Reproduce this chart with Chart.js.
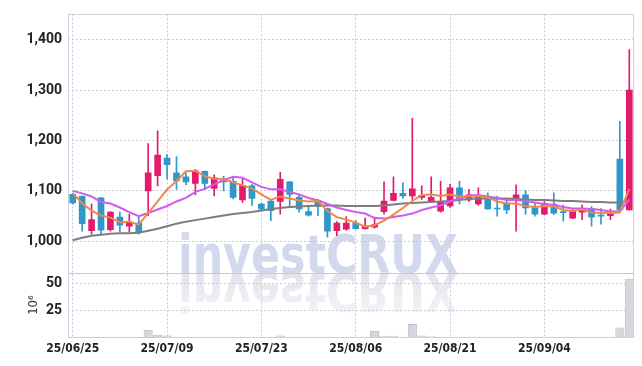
<!DOCTYPE html>
<html><head><meta charset="utf-8">
<script src="https://cdn.jsdelivr.net/npm/chart.js@4.4.1/dist/chart.umd.min.js"></script>
<style>html,body{margin:0;padding:0;background:#fff;overflow:hidden}#wrap{width:642px;height:366px;position:relative}</style>
</head><body><div id="wrap"><canvas id="c" width="642" height="366"></canvas></div>
<script>
const dates = ['25/06/25','25/06/26','25/06/27','25/06/30','25/07/01','25/07/02','25/07/03','25/07/04','25/07/07','25/07/08',
'25/07/09','25/07/10','25/07/11','25/07/14','25/07/15','25/07/16','25/07/17','25/07/18','25/07/21','25/07/22',
'25/07/23','25/07/24','25/07/25','25/07/28','25/07/29','25/07/30','25/07/31','25/08/01','25/08/04','25/08/05',
'25/08/06','25/08/07','25/08/08','25/08/11','25/08/12','25/08/13','25/08/14','25/08/18','25/08/19','25/08/20',
'25/08/21','25/08/22','25/08/25','25/08/26','25/08/27','25/08/28','25/08/29','25/09/01','25/09/02','25/09/03',
'25/09/04','25/09/05','25/09/08','25/09/09','25/09/10','25/09/11','25/09/12','25/09/15','25/09/16','25/09/17'];
const tickDates = ['25/06/25','25/07/09','25/07/23','25/08/06','25/08/21','25/09/04'];
const openP  = [1093,1089,1021,1086,1023,1048,1030,1036,1100,1130,1165,1136,1128,1115,1139,1105,1124,1119,1082,1110,
1074,1080,1079,1118,1087,1059,1081,1065,1021,1024,1036,1025,1028,1059,1081,1095,1090,1087,1079,1060,
1070,1106,1082,1074,1089,1066,1076,1085,1092,1067,1054,1074,1059,1046,1058,1065,1051,1051,1163,1062];
const highP  = [1095,1090,1074,1087,1059,1058,1054,1051,1194,1219,1172,1168,1136,1142,1140,1132,1129,1129,1123,1113,
1076,1081,1137,1119,1093,1072,1083,1066,1039,1049,1041,1046,1048,1118,1128,1116,1244,1110,1128,1119,
1113,1119,1103,1106,1096,1089,1085,1112,1101,1077,1079,1096,1072,1063,1072,1069,1065,1064,1238,1380];
const lowP   = [1074,1020,1014,1014,1020,1019,1019,1014,1051,1110,1123,1103,1112,1092,1103,1090,1100,1084,1077,1071,
1062,1041,1054,1067,1058,1050,1051,1008,1011,1022,1024,1024,1026,1054,1080,1085,1083,1083,1077,1058,
1067,1074,1079,1071,1063,1050,1055,1020,1054,1050,1053,1053,1040,1045,1043,1030,1034,1043,1060,1062];
const closeP = [1076,1035,1043,1022,1058,1032,1038,1017,1136,1171,1152,1120,1118,1140,1115,1126,1118,1087,1111,1085,
1064,1061,1123,1093,1064,1052,1069,1020,1036,1036,1025,1030,1033,1080,1095,1090,1104,1091,1087,1078,
1106,1083,1092,1091,1064,1064,1062,1092,1066,1054,1075,1056,1057,1060,1065,1048,1050,1058,1062,1300];
const ma5  = [1096,1075,1061,1051,1047,1038,1039,1033,1056,1079,1103,1119,1139,1140,1129,1124,1123,1117,1111,1105,
1093,1082,1089,1085,1081,1079,1080,1060,1048,1043,1037,1029,1032,1041,1053,1066,1080,1092,1093,1090,
1093,1089,1089,1090,1087,1079,1075,1075,1070,1068,1070,1069,1062,1060,1063,1057,1056,1056,1057,1104];
const ma10 = [1100,1095,1089,1078,1075,1067,1058,1050,1056,1063,1070,1079,1086,1098,1104,1113,1121,1128,1126,1117,
1108,1103,1103,1098,1093,1086,1081,1074,1067,1062,1058,1055,1046,1045,1048,1051,1055,1062,1067,1071,
1079,1085,1091,1092,1089,1086,1082,1082,1080,1077,1074,1072,1068,1065,1065,1064,1062,1059,1059,1083];
const maLong = [1002,1007,1011,1013,1015,1016,1016,1017,1021,1025,1030,1035,1039,1042,1045,1048,1051,1054,1056,1058,
1061,1064,1066,1068,1069,1070,1071,1071,1071,1070,1070,1070,1070,1071,1073,1075,1076,1077,1078,1079,
1080,1082,1084,1085,1085,1085,1085,1084,1083,1082,1082,1081,1080,1080,1079,1078,1078,1077,1077,1080];
const volume = [0.3,0.3,0.3,0.3,0.3,0.3,0.3,0.3,6.7,2.1,1.3,0.3,0.3,0.3,0.3,0.3,0.3,0.3,0.3,0.3,
0.3,0.3,1.3,0.3,0.3,0.3,0.3,0.3,0.3,0.3,0.3,0.3,5.8,1.2,1.2,0.3,12.3,1.3,0.8,0.3,
0.3,0.3,0.3,0.3,0.3,0.3,0.3,0.3,0.3,0.3,0.3,0.3,0.3,0.3,0.3,0.3,0.3,0.3,8.9,54.6];
const priceTicks = [1000,1100,1200,1300,1400];
const volumeTicks = [25,50];
const watermark = 'investCRUX';

const UP = '#e31b6d', DOWN = '#2e98c9';
const candleColors = closeP.map((c,i)=> c >= openP[i] ? UP : DOWN);
const GRID = '#c9cadb';
const tickFontY = {family:"Roboto,'DejaVu Sans Condensed',sans-serif", weight:'bold', size:14};
const tickFontX = {family:"'DejaVu Sans Condensed',sans-serif", weight:'bold', size:12};

const decor = {
  id:'decor',
  beforeDraw(chart){
    const {ctx, chartArea:a} = chart;
    const base = chart.scales.yv.top;
    ctx.save();
    ctx.font = "bold 53px 'DejaVu Sans', sans-serif";
    ctx.textAlign = 'left'; ctx.textBaseline = 'alphabetic';
    ctx.fillStyle = '#d3d9ec';
    ctx.fillText(watermark, 178, base, 280);
    ctx.beginPath(); ctx.rect(a.left, base, a.right - a.left, a.bottom - base); ctx.clip();
    ctx.translate(0, 2*base); ctx.scale(1,-1);
    const g = ctx.createLinearGradient(0, base, 0, base - 42);
    g.addColorStop(0, 'rgba(226,226,236,1)');
    g.addColorStop(1, 'rgba(238,238,244,0.7)');
    ctx.fillStyle = g;
    ctx.fillText(watermark, 178, base, 280);
    ctx.restore();
  },
  afterDraw(chart){
    const {ctx, chartArea:a} = chart;
    const sep = Math.round(chart.scales.yv.top) + 0.5;
    ctx.save();
    ctx.lineWidth = 1;
    ctx.strokeStyle = '#cfd0dc';
    ctx.strokeRect(Math.round(a.left)+0.5, Math.round(a.top)+0.5, Math.round(a.right-a.left)-1, Math.round(a.bottom-a.top));
    ctx.strokeStyle = '#c8c8cf';
    ctx.beginPath(); ctx.moveTo(a.left, sep); ctx.lineTo(a.right, sep); ctx.stroke();
    ctx.restore();
  }
};

new Chart(document.getElementById('c'), {
  data: {
    labels: dates,
    datasets: [
      {type:'line', data: ma5, borderColor:'#f0874b', borderWidth:2, pointRadius:0, tension:0, yAxisID:'y', order:0},
      {type:'line', data: ma10, borderColor:'#cf5cef', borderWidth:2, pointRadius:0, tension:0, yAxisID:'y', order:1},
      {type:'line', data: maLong, borderColor:'#7d7d7d', borderWidth:2, pointRadius:0, tension:0, yAxisID:'y', order:2},
      {type:'bar', data: dates.map((d,i)=>[openP[i], closeP[i]]), backgroundColor: candleColors, barThickness:6, minBarLength:1, grouped:false, yAxisID:'y', order:3},
      {type:'bar', data: dates.map((d,i)=>[lowP[i], highP[i]]), backgroundColor: candleColors, barThickness:1, grouped:false, yAxisID:'y', order:4},
      {type:'bar', data: volume, backgroundColor:'#d7d6de', borderColor:'#b9b8c3', borderWidth:1, barPercentage:1, categoryPercentage:0.96, grouped:false, yAxisID:'yv', order:5}
    ]
  },
  options: {
    responsive:false, animation:false, devicePixelRatio:1,
    layout:{padding:{top:9, right:8, left:0, bottom:0}},
    plugins:{legend:{display:false}, tooltip:{enabled:false}},
    scales:{
      x:{
        type:'category', offset:true,
        grid:{offset:false, drawTicks:false, color:(c)=> (c.tick && tickDates.includes(c.tick.label)) ? GRID : 'rgba(0,0,0,0)'},
        border:{display:false, dash:[2,2]},
        ticks:{autoSkip:false, maxRotation:0, minRotation:0, padding:5, color:'#222', font:tickFontX,
          callback:(v,i)=> tickDates.includes(dates[i]) ? dates[i] : ''},
        afterFit(s){ s.height = 29; }
      },
      yv:{
        position:'left', stack:'panes', stackWeight:65, min:0, max:60,
        afterBuildTicks(s){ s.ticks = volumeTicks.map(v=>({value:v})); },
        grid:{drawTicks:false, color:GRID},
        border:{display:false, dash:[2,2]},
        ticks:{padding:6, color:'#222', font:tickFontY},
        title:{display:true, text:'10⁶', color:'#333', font:{family:"'DejaVu Sans Condensed',sans-serif", size:13}, padding:{top:26, bottom:0}},
        afterFit(s){ s.width = 68; }
      },
      y:{
        position:'left', stack:'panes', stackWeight:263, min:937, max:1450,
        afterBuildTicks(s){ s.ticks = priceTicks.map(v=>({value:v})); },
        grid:{drawTicks:false, color:GRID},
        border:{display:false, dash:[2,2]},
        ticks:{padding:6, color:'#222', font:tickFontY, callback:(v)=> Number(v).toLocaleString('en-US')},
        afterFit(s){ s.width = 68; }
      }
    }
  },
  plugins:[decor]
});
</script></body></html>
